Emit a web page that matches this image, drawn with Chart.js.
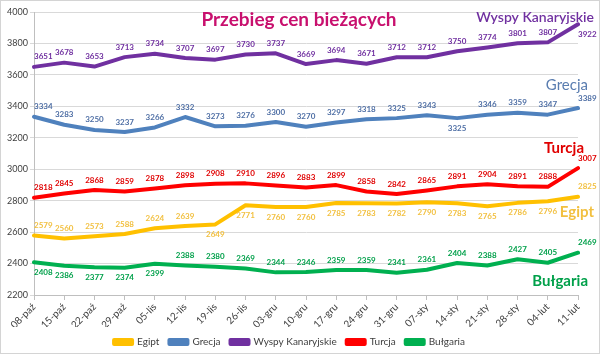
<!DOCTYPE html>
<html>
<head>
<meta charset="utf-8">
<script src="https://cdn.jsdelivr.net/npm/chart.js@4"></script>
<style>
  html, body { margin: 0; padding: 0; background: #fff; }
  #frame { width: 600px; height: 354px; box-sizing: border-box; border: 1px solid #d4d4d4; }
  #wrap { position: relative; width: 598px; height: 352px; }
</style>
</head>
<body>
<div id="frame"><div id="wrap"><canvas id="chart"></canvas></div></div>
<script>
// Weekly dates (x axis)
const weeks = ['08-paź', '15-paź', '22-paź', '29-paź', '05-lis', '12-lis', '19-lis', '26-lis', '03-gru', '10-gru',
    '17-gru', '24-gru', '31-gru', '07-sty', '14-sty', '21-sty', '28-sty', '04-lut', '11-lut'];

// Prices per destination
const egipt = [2579, 2560, 2573, 2588, 2624, 2639, 2649, 2771, 2760, 2760, 2785, 2783, 2782, 2790, 2783, 2765, 2786, 2796, 2825];
const grecja = [3334, 3283, 3250, 3237, 3266, 3332, 3273, 3276, 3300, 3270, 3297, 3318, 3325, 3343, 3325, 3346, 3359, 3347, 3389];
const wyspy = [3651, 3678, 3653, 3713, 3734, 3707, 3697, 3730, 3737, 3669, 3694, 3671, 3712, 3712, 3750, 3774, 3801, 3807, 3922];
const turcja = [2818, 2845, 2868, 2859, 2878, 2898, 2908, 2910, 2896, 2883, 2899, 2858, 2842, 2865, 2891, 2904, 2891, 2888, 3007];
const bulgaria = [2408, 2386, 2377, 2374, 2399, 2388, 2380, 2369, 2344, 2346, 2359, 2359, 2341, 2361, 2404, 2388, 2427, 2405, 2469];

// Y axis ticks
const yTicks = [2200, 2400, 2600, 2800, 3000, 3200, 3400, 3600, 3800, 4000];

const FONT = 'Lato, "Open Sans", sans-serif';

// Series setup: line colour, value label colour, indices whose label sits below the line
const series = [
    { name: 'Egipt', data: egipt, color: '#FFC000', text: '#F2C040', below: [6, 7, 8, 9, 10, 11, 12, 13, 14, 15, 16, 17] },
    { name: 'Grecja', data: grecja, color: '#4F81BD', text: '#4F6FA5', below: [14] },
    { name: 'Wyspy Kanaryjskie', data: wyspy, color: '#7030A0', text: '#7030A0', below: [18] },
    { name: 'Turcja', data: turcja, color: '#FF0000', text: '#E00000', below: [] },
    { name: 'Bułgaria', data: bulgaria, color: '#00B050', text: '#00A04A', below: [0, 1, 2, 3, 4] }
];

// Name tags at the right side of the plot (y given in axis units)
const tags = [
    { text: 'Wyspy Kanaryjskie', y: 3962, right: 16, font: '600 14px', color: '#7030A0' },
    { text: 'Grecja', y: 3534, right: 10, font: '15px', color: '#5A7DB0' },
    { text: 'Turcja', y: 3137, right: 6, font: 'bold 15px', color: '#E00000' },
    { text: 'Egipt', y: 2728, right: 16, font: 'bold 15px', color: '#F2C040' },
    { text: 'Bułgaria', y: 2287, right: 10, font: 'bold 15px', color: '#00A04A' }
];

// Draw value labels, name tags and the title
const labelsPlugin = {
    id: 'labels',
    afterDatasetsDraw(chart) {
        const ctx = chart.ctx;
        const area = chart.chartArea;
        const yScale = chart.scales.y;
        ctx.save();
        ctx.font = 'bold 8px ' + FONT;
        ctx.textBaseline = 'middle';
        chart.data.datasets.forEach((ds, di) => {
            const meta = chart.getDatasetMeta(di);
            const s = series[di];
            meta.data.forEach((pt, i) => {
                const below = s.below.includes(i);
                ctx.fillStyle = s.text;
                ctx.textAlign = (i === 0 || i === meta.data.length - 1) ? 'left' : 'center';
                ctx.fillText(String(ds.data[i]), pt.x, pt.y + (below ? 10 : -10));
            });
        });
        tags.forEach(t => {
            ctx.font = t.font + ' ' + FONT;
            ctx.fillStyle = t.color;
            ctx.textAlign = 'right';
            ctx.fillText(t.text, area.right + t.right, yScale.getPixelForValue(t.y));
        });
        // title
        ctx.font = 'bold 19px ' + FONT;
        ctx.fillStyle = '#C8106E';
        ctx.textAlign = 'center';
        ctx.fillText('Przebieg cen bieżących', 298, 19);
        ctx.restore();
    }
};

new Chart(document.getElementById('chart'), {
    type: 'line',
    data: {
        labels: weeks,
        datasets: series.map(s => ({
            label: s.name,
            data: s.data,
            borderColor: s.color,
            backgroundColor: s.color,
            borderWidth: 4,
            pointRadius: 0,
            tension: 0,
            borderJoinStyle: 'round',
            borderCapStyle: 'round'
        }))
    },
    options: {
        responsive: true,
        maintainAspectRatio: false,
        animation: false,
        layout: { padding: { top: 11, right: 21, left: 0, bottom: 0 } },
        plugins: {
            legend: {
                position: 'bottom',
                maxHeight: 26,
                labels: {
                    font: { family: FONT, size: 10 },
                    color: '#404040',
                    boxWidth: 18,
                    boxHeight: 4,
                    padding: 10
                }
            },
            tooltip: { enabled: false }
        },
        scales: {
            x: {
                offset: false,
                grid: { drawOnChartArea: false, drawTicks: true, tickLength: 5, color: '#BFBFBF' },
                border: { color: '#BFBFBF' },
                ticks: {
                    font: { family: FONT, size: 10 },
                    color: '#404040',
                    minRotation: 45,
                    maxRotation: 45,
                    autoSkip: false,
                    padding: 1
                },
                afterFit(axis) { axis.height = 32; }
            },
            y: {
                min: 2200,
                max: 4000,
                afterBuildTicks(axis) { axis.ticks = yTicks.map(v => ({ value: v })); },
                grid: { color: '#D9D9D9', tickLength: 4 },
                border: { color: '#BFBFBF' },
                ticks: {
                    font: { family: FONT, size: 9 },
                    color: '#404040',
                    padding: 2,
                    callback: v => String(v)
                },
                afterFit(axis) { axis.width = 33; }
            }
        }
    },
    plugins: [labelsPlugin]
});
</script>
</body>
</html>
